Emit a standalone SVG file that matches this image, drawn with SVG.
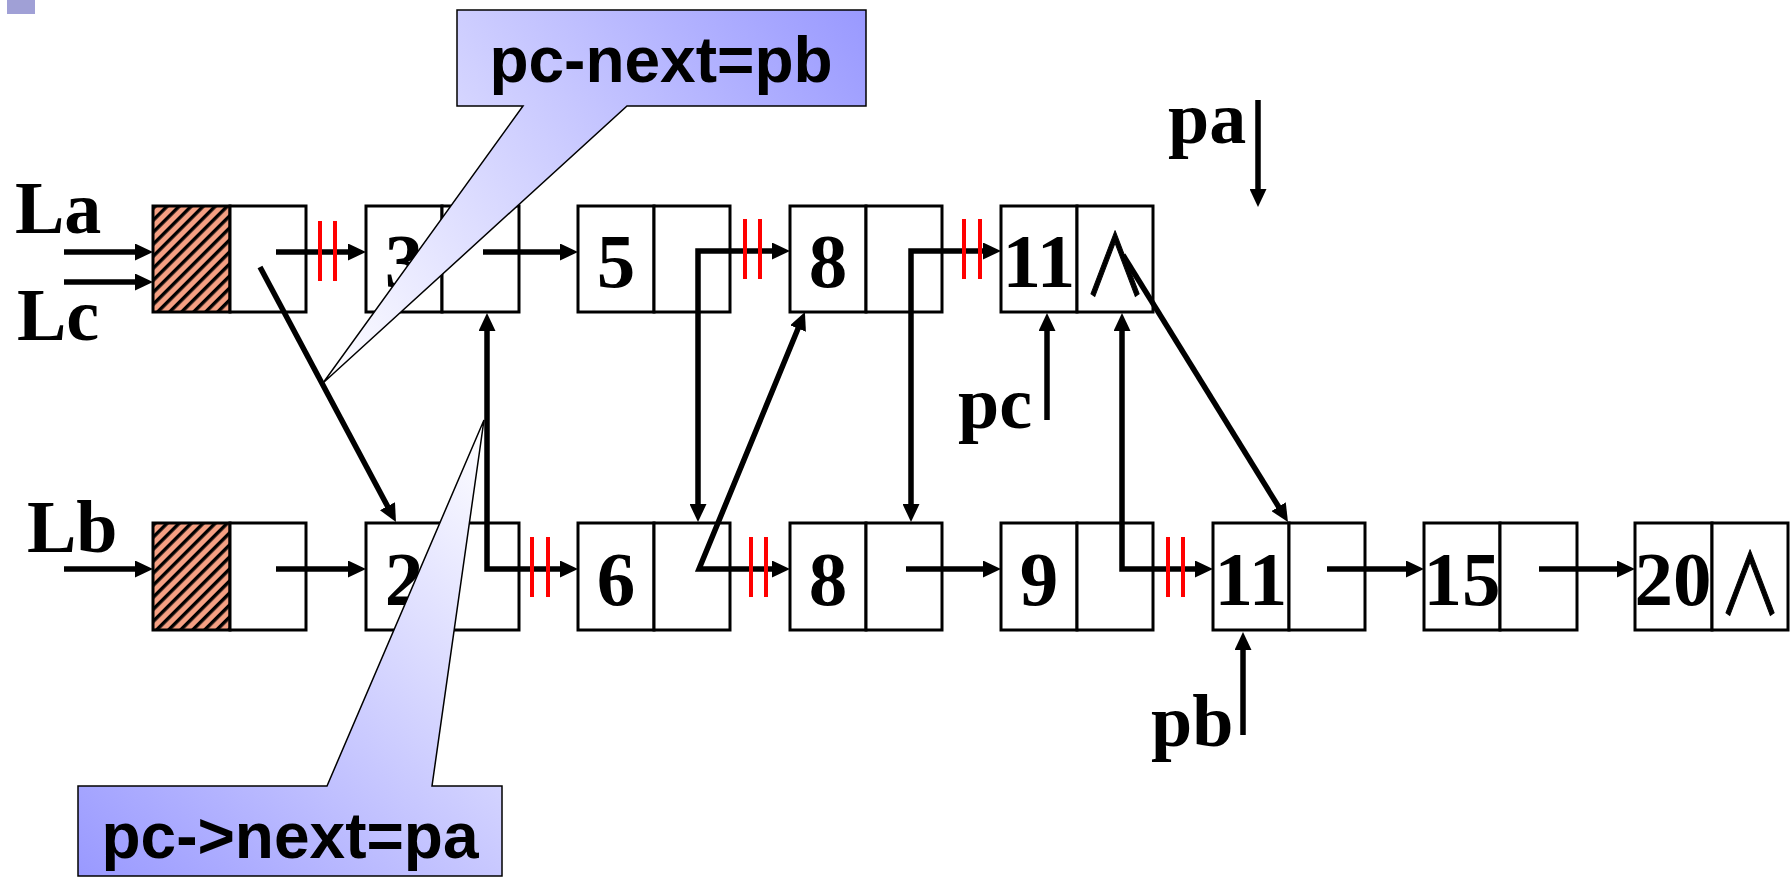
<svg xmlns="http://www.w3.org/2000/svg" width="1792" height="878" viewBox="0 0 1792 878">
  <style>
    .box { fill: #fff; stroke: #000; stroke-width: 3; }
    .head { fill: url(#hatch); stroke: #000; stroke-width: 3; }
    .num { font-family: "Liberation Serif", "Times New Roman", serif; font-weight: bold; font-size: 77px; text-anchor: middle; fill: #000; }
    .lbl { font-family: "Liberation Serif", "Times New Roman", serif; font-weight: bold; font-size: 74px; fill: #000; }
    .nil { font-family: "Noto Sans CJK JP", "DejaVu Sans", sans-serif; font-weight: 400; font-size: 84px; text-anchor: middle; fill: #000; stroke: #000; stroke-width: 1.3; }
    .link { fill: none; stroke: #000; stroke-width: 5.5; stroke-linejoin: miter; marker-end: url(#ah); }
    .both { marker-start: url(#ah); }
    .cut { stroke: #f00; stroke-width: 4; }
    .callout { stroke: #000; stroke-width: 1.5; }
    .note { font-family: "Liberation Sans", Arial, sans-serif; font-weight: bold; font-size: 64px; text-anchor: middle; fill: #000; }
  </style>
  <defs>
    <pattern id="hatch" patternUnits="userSpaceOnUse" width="8.5" height="8.5" patternTransform="rotate(45)">
      <rect width="8.5" height="8.5" fill="#f5a083"/>
      <rect width="3.4" height="8.5" fill="#000"/>
    </pattern>
    <marker id="ah" markerUnits="userSpaceOnUse" viewBox="0 0 18 17" markerWidth="18" markerHeight="17" refX="3" refY="8.5" orient="auto-start-reverse">
      <path d="M0,0 L18,8.5 L0,17 Z" fill="#000"/>
    </marker>
    <linearGradient id="gTop" gradientUnits="userSpaceOnUse" x1="323" y1="383" x2="866" y2="10">
      <stop offset="0" stop-color="#ffffff"/>
      <stop offset="1" stop-color="#9999ff"/>
    </linearGradient>
    <linearGradient id="gBot" gradientUnits="userSpaceOnUse" x1="78" y1="876" x2="484" y2="420">
      <stop offset="0" stop-color="#9999ff"/>
      <stop offset="1" stop-color="#ffffff"/>
    </linearGradient>
  </defs>

  <rect x="7" y="0" width="28" height="14" fill="#a0a0d6"/>

  <!-- list A / C (top row) -->
  <g id="a-head" transform="translate(153,206)">
    <rect class="head" width="77" height="106"/>
    <rect class="box" x="77" width="76" height="106"/>
  </g>
  <g id="a-3" transform="translate(366,206)">
    <rect class="box" width="76" height="106"/>
    <rect class="box" x="76" width="77" height="106"/>
    <text class="num" x="38" y="81">3</text>
  </g>
  <g id="a-5" transform="translate(578,206)">
    <rect class="box" width="76" height="106"/>
    <rect class="box" x="76" width="76" height="106"/>
    <text class="num" x="38" y="81">5</text>
  </g>
  <g id="a-8" transform="translate(790,206)">
    <rect class="box" width="76" height="106"/>
    <rect class="box" x="76" width="76" height="106"/>
    <text class="num" x="38" y="81">8</text>
  </g>
  <g id="a-11" transform="translate(1001,206)">
    <rect class="box" width="76" height="106"/>
    <rect class="box" x="76" width="76" height="106"/>
    <text class="num" x="38" y="81">11</text>
    <text class="nil" x="114" y="90" transform="translate(114,0) scale(0.74,1) translate(-114,0)">∧</text>
  </g>

  <!-- list B (bottom row) -->
  <g id="b-head" transform="translate(153,523)">
    <rect class="head" width="77" height="107"/>
    <rect class="box" x="77" width="76" height="107"/>
  </g>
  <g id="b-2" transform="translate(366,523)">
    <rect class="box" width="76" height="107"/>
    <rect class="box" x="76" width="77" height="107"/>
    <text class="num" x="38" y="82">2</text>
  </g>
  <g id="b-6" transform="translate(578,523)">
    <rect class="box" width="76" height="107"/>
    <rect class="box" x="76" width="76" height="107"/>
    <text class="num" x="38" y="82">6</text>
  </g>
  <g id="b-8" transform="translate(790,523)">
    <rect class="box" width="76" height="107"/>
    <rect class="box" x="76" width="76" height="107"/>
    <text class="num" x="38" y="82">8</text>
  </g>
  <g id="b-9" transform="translate(1001,523)">
    <rect class="box" width="76" height="107"/>
    <rect class="box" x="76" width="76" height="107"/>
    <text class="num" x="38" y="82">9</text>
  </g>
  <g id="b-11" transform="translate(1213,523)">
    <rect class="box" width="76" height="107"/>
    <rect class="box" x="76" width="76" height="107"/>
    <text class="num" x="38" y="82">11</text>
  </g>
  <g id="b-15" transform="translate(1424,523)">
    <rect class="box" width="76" height="107"/>
    <rect class="box" x="76" width="77" height="107"/>
    <text class="num" x="38" y="82">15</text>
  </g>
  <g id="b-20" transform="translate(1635,523)">
    <rect class="box" width="77" height="107"/>
    <rect class="box" x="77" width="76" height="107"/>
    <text class="num" x="38" y="82">20</text>
    <text class="nil" x="115" y="92" transform="translate(115,0) scale(0.74,1) translate(-115,0)">∧</text>
  </g>

  <!-- pointer names -->
  <g id="names">
    <text class="lbl" x="15" y="233">La</text>
    <text class="lbl" x="17" y="340">Lc</text>
    <text class="lbl" x="27" y="552">Lb</text>
    <text class="lbl" x="1168" y="143">pa</text>
    <text class="lbl" x="958" y="428">pc</text>
    <text class="lbl" x="1151" y="746">pb</text>
  </g>

  <!-- links -->
  <g id="connectors">
    <path class="link" d="M64,252 H138"/>
    <path class="link" d="M64,282 H138"/>
    <path class="link" d="M64,569 H138"/>
    <path class="link" d="M276,252 H351"/>
    <path class="link" d="M276,569 H351"/>
    <path class="link" d="M483,252 H563"/>
    <path class="link both" d="M698,507 V251 H775"/>
    <path class="link both" d="M911,507 V251 H986"/>
    <path class="link both" d="M799.2,325.8 L699,569 H775"/>
    <path class="link both" d="M487,328 V569 H563"/>
    <path class="link both" d="M1122,328 V569 H1198"/>
    <path class="link" d="M906,569 H986"/>
    <path class="link" d="M1327,569 H1409"/>
    <path class="link" d="M1539,569 H1620"/>
    <path class="link" d="M260,267 L388.9,508.8"/>
    <path class="link" d="M1123,255 L1280.1,509.2"/>
    <path class="link" d="M1258,100 V192"/>
    <path class="link" d="M1047,420 V328"/>
    <path class="link" d="M1243,735 V647"/>
    <!-- broken links -->
    <line class="cut" x1="320" y1="221" x2="320" y2="281"/>
    <line class="cut" x1="335" y1="221" x2="335" y2="281"/>
    <line class="cut" x1="745" y1="219" x2="745" y2="279"/>
    <line class="cut" x1="760" y1="219" x2="760" y2="279"/>
    <line class="cut" x1="964" y1="219" x2="964" y2="279"/>
    <line class="cut" x1="980" y1="219" x2="980" y2="279"/>
    <line class="cut" x1="532" y1="537" x2="532" y2="597"/>
    <line class="cut" x1="548" y1="537" x2="548" y2="597"/>
    <line class="cut" x1="751" y1="537" x2="751" y2="597"/>
    <line class="cut" x1="766" y1="537" x2="766" y2="597"/>
    <line class="cut" x1="1168" y1="537" x2="1168" y2="597"/>
    <line class="cut" x1="1183" y1="537" x2="1183" y2="597"/>
  </g>

  <!-- annotations -->
  <g id="note-pb">
    <path class="callout" fill="url(#gTop)" d="M457,10 H866 V106 H627 L323,383 L523,106 H457 Z"/>
    <text class="note" x="661" y="82">pc-next=pb</text>
  </g>
  <g id="note-pa">
    <path class="callout" fill="url(#gBot)" d="M78,786 H327 L484,420 L432,786 H502 V876 H78 Z"/>
    <text class="note" x="290" y="858">pc-&gt;next=pa</text>
  </g>
</svg>
